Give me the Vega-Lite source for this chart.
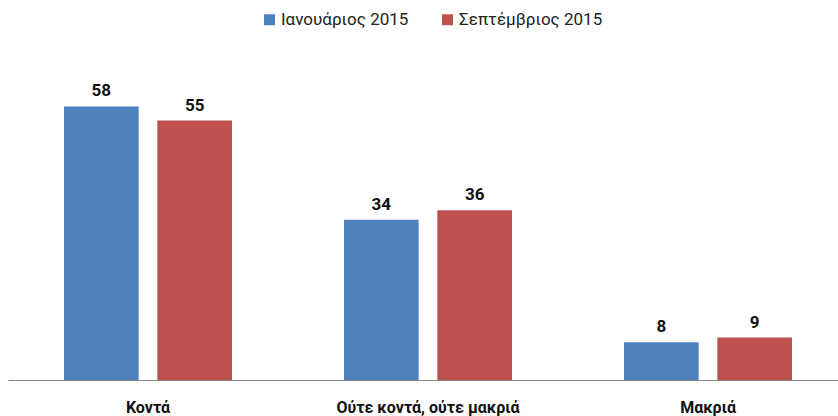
{
  "$schema": "https://vega.github.io/schema/vega-lite/v6.json",
  "width": 830,
  "height": 283,
  "autosize": "none",
  "padding": {"left": 8, "top": 97, "right": 0, "bottom": 36},
  "background": "white",
  "config": {"view": {"stroke": null}, "font": "Roboto"},
  "data": {
    "values": [
      {"category": "Κοντά", "period": "Ιανουάριος 2015", "value": 58},
      {"category": "Κοντά", "period": "Σεπτέμβριος 2015", "value": 55},
      {"category": "Ούτε κοντά, ούτε μακριά", "period": "Ιανουάριος 2015", "value": 34},
      {"category": "Ούτε κοντά, ούτε μακριά", "period": "Σεπτέμβριος 2015", "value": 36},
      {"category": "Μακριά", "period": "Ιανουάριος 2015", "value": 8},
      {"category": "Μακριά", "period": "Σεπτέμβριος 2015", "value": 9}
    ]
  },
  "encoding": {
    "x": {
      "field": "category",
      "type": "nominal",
      "sort": ["Κοντά", "Ούτε κοντά, ούτε μακριά", "Μακριά"],
      "scale": {"range": [0, 840], "paddingInner": 0, "paddingOuter": 0},
      "axis": {
        "title": null,
        "labelAngle": 0,
        "ticks": false,
        "tickSize": 0,
        "domainColor": "#868686",
        "domainWidth": 1,
        "labelFontWeight": "bold",
        "labelFontSize": 16,
        "labelColor": "#111111",
        "labelBaseline": "alphabetic",
        "labelPadding": 32,
        "labelLimit": 0
      }
    },
    "xOffset": {
      "field": "period",
      "type": "nominal",
      "sort": ["Ιανουάριος 2015", "Σεπτέμβριος 2015"],
      "scale": {"paddingInner": 0.2, "paddingOuter": 0.6}
    },
    "y": {
      "field": "value",
      "type": "quantitative",
      "scale": {"domain": [0, 60]},
      "axis": null
    }
  },
  "layer": [
    {
      "mark": {"type": "bar"},
      "encoding": {
        "color": {
          "field": "period",
          "type": "nominal",
          "sort": ["Ιανουάριος 2015", "Σεπτέμβριος 2015"],
          "scale": {"domain": ["Ιανουάριος 2015", "Σεπτέμβριος 2015"], "range": ["#4F81BD", "#C0504D"]},
          "legend": {
            "title": null,
            "orient": "none",
            "legendX": 253,
            "legendY": -86,
            "direction": "horizontal",
            "symbolType": "square",
            "symbolSize": 121,
            "symbolStrokeWidth": 0,
            "labelFontSize": 17,
            "labelOffset": 3,
            "columnPadding": 30,
            "labelColor": "#222222",
            "padding": 0
          }
        }
      }
    },
    {
      "mark": {"type": "text", "dy": -10, "baseline": "alphabetic", "fontWeight": "bold", "fontSize": 17, "color": "#111111"},
      "encoding": {"text": {"field": "value", "type": "quantitative"}}
    }
  ]
}
